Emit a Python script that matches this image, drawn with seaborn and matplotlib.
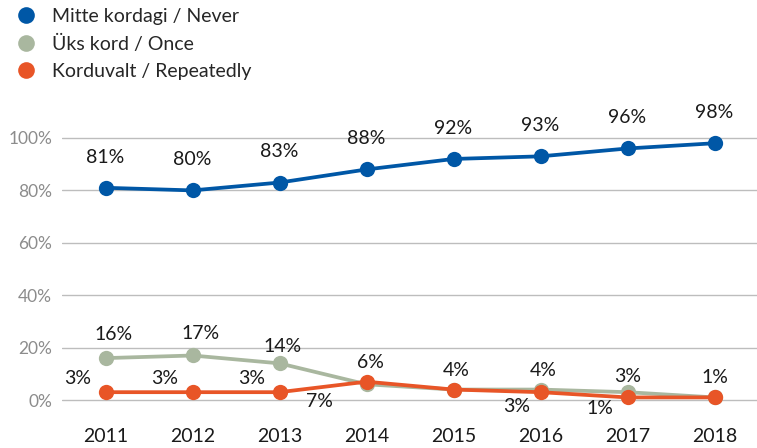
import matplotlib
matplotlib.use("Agg")
import matplotlib.pyplot as plt
from matplotlib.lines import Line2D
import seaborn as sns
import pandas as pd

years = ["2011", "2012", "2013", "2014", "2015", "2016", "2017", "2018"]
never = [81, 80, 83, 88, 92, 93, 96, 98]
once = [16, 17, 14, 6, 4, 4, 3, 1]
repeatedly = [3, 3, 3, 7, 4, 3, 1, 1]
series_names = ["Mitte kordagi / Never", "Üks kord / Once", "Korduvalt / Repeatedly"]
y_ticks = [0, 20, 40, 60, 80, 100]
y_tick_labels = ["0%", "20%", "40%", "60%", "80%", "100%"]

colors = ["#0057A6", "#A9B79F", "#E85527"]

sns.set_theme(style="white")
plt.rcParams["font.family"] = ["Lato", "DejaVu Sans"]

df = pd.DataFrame({
    "year": years * 3,
    "x": list(range(len(years))) * 3,
    "value": never + once + repeatedly,
    "series": [series_names[0]] * 8 + [series_names[1]] * 8 + [series_names[2]] * 8,
})

fig = plt.figure(figsize=(7.57, 4.48), dpi=100)
ax = fig.add_axes([62 / 757, (448 - 410) / 448, 696 / 757, 310 / 448])

for ytk in y_ticks:
    ax.axhline(ytk, color="#BDBDBD", lw=1.0, zorder=0)

sns.lineplot(data=df, x="x", y="value", hue="series", hue_order=series_names,
             palette=colors, marker="o", markersize=11, markeredgewidth=0,
             linewidth=2.7, ax=ax, legend=False, sort=False)

# label offsets in points (style)
off_never = [(0, 22)] * 8
off_once = [(6, 17), (6, 16), (2, 12), (3, 16), (2, 14), (2, 14), (0, 11), (0, 14)]
off_rep = [(-20, 10), (-20, 10), (-20, 10), (-34, -14), (0, 0), (-17, -10), (-20, -8), (0, 0)]

lab_fs = 14
for i in range(len(years)):
    ax.annotate(f"{never[i]}%", (i, never[i]), xytext=off_never[i], textcoords="offset points",
                ha="center", va="center", fontsize=lab_fs, color="#1a1a1a")
    ax.annotate(f"{once[i]}%", (i, once[i]), xytext=off_once[i], textcoords="offset points",
                ha="center", va="center", fontsize=lab_fs, color="#1a1a1a")
    if off_rep[i] != (0, 0):
        ax.annotate(f"{repeatedly[i]}%", (i, repeatedly[i]), xytext=off_rep[i], textcoords="offset points",
                    ha="center", va="center", fontsize=lab_fs, color="#1a1a1a")

ax.set_xlim(-0.5, 7.5)
ax.set_ylim(-3.8, 114.5)
ax.set_xticks(range(len(years)))
ax.set_xticklabels(years, fontsize=14, color="#1a1a1a")
ax.set_yticks(y_ticks)
ax.set_yticklabels(y_tick_labels, fontsize=12.5, color="#8C8C8C")
ax.tick_params(axis="both", length=0)
ax.tick_params(axis="x", pad=13)
ax.tick_params(axis="y", pad=7)
ax.set_xlabel("")
ax.set_ylabel("")
for s in ax.spines.values():
    s.set_visible(False)

handles = [Line2D([0], [0], marker="o", color="none", markerfacecolor=c, markeredgewidth=0,
                  markersize=12) for c in colors]
fig.legend(handles, series_names, loc="upper left", bbox_to_anchor=(0.008, 1.0),
           frameon=False, fontsize=14, handletextpad=0.75, labelspacing=0.52,
           handlelength=1.2, borderaxespad=0)

fig.savefig("out.png", dpi=100)
